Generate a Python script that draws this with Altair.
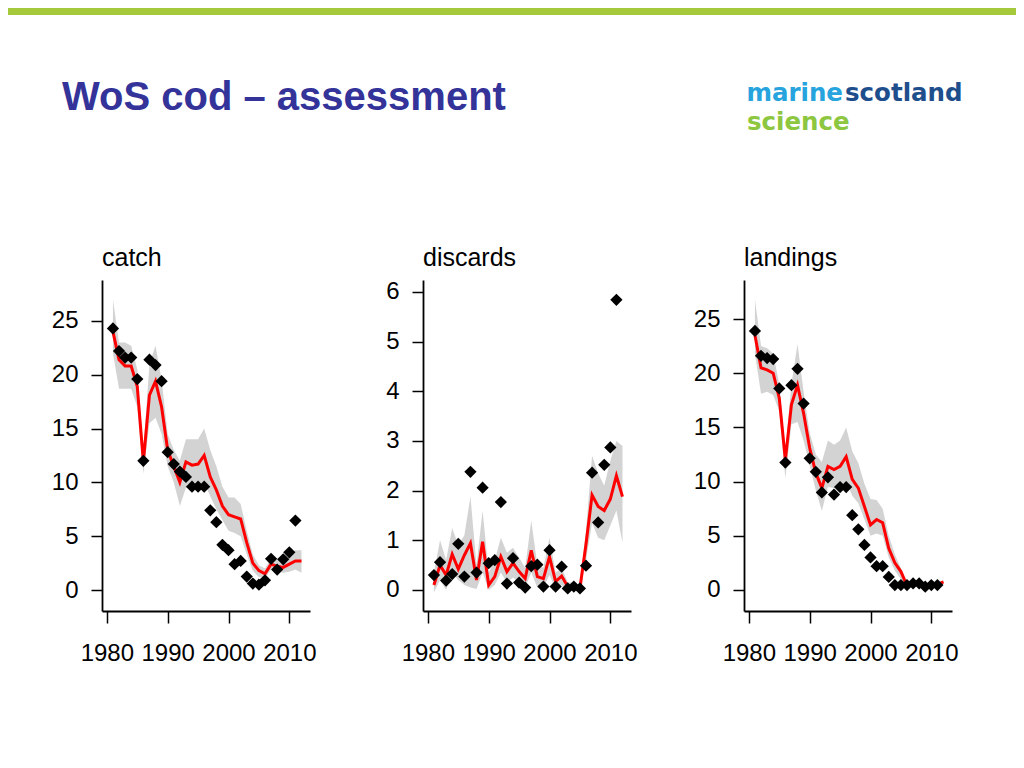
import altair as alt
import pandas as pd

# ---------------- data ----------------
model_years = list(range(1981, 2013))
obs_years = list(range(1981, 2012))

catch_obs = [24.3, 22.2, 21.6, 21.6, 19.6, 12.0, 21.4, 20.9, 19.4, 12.8, 11.7, 11.0, 10.5,
             9.6, 9.6, 9.6, 7.4, 6.3, 4.2, 3.7, 2.4, 2.7, 1.25, 0.6, 0.5, 0.9, 2.9, 1.9,
             2.85, 3.5, 6.45]
catch_est = [24.0, 21.4, 20.8, 20.8, 18.9, 11.9, 18.1, 19.4, 17.0, 13.0, 11.5, 10.0, 11.9,
             11.6, 11.7, 12.5, 10.5, 9.3, 7.8, 7.0, 6.8, 6.6, 4.4, 2.5, 1.8, 1.5, 2.4, 2.2,
             2.1, 2.4, 2.7, 2.7]
catch_hi = [27.0, 23.0, 23.0, 22.7, 20.5, 13.0, 21.0, 22.7, 19.5, 14.5, 13.0, 12.0, 14.0,
            14.0, 14.0, 15.0, 13.0, 11.5, 9.6, 8.6, 8.6, 8.0, 5.5, 3.3, 2.3, 2.0, 3.0, 2.9,
            3.2, 3.4, 3.7, 3.7]
catch_lo = [22.0, 18.7, 18.7, 18.7, 17.0, 10.8, 15.5, 16.0, 14.5, 11.5, 10.0, 7.8, 9.5,
            9.8, 9.8, 10.0, 8.7, 7.5, 6.5, 5.5, 5.3, 5.0, 3.3, 1.8, 1.2, 1.1, 1.9, 1.7,
            1.6, 1.7, 1.9, 1.6]

disc_obs = [0.30, 0.56, 0.19, 0.32, 0.93, 0.27, 2.38, 0.35, 2.06, 0.54, 0.60, 1.77, 0.13,
            0.64, 0.15, 0.05, 0.48, 0.51, 0.07, 0.80, 0.07, 0.47, 0.03, 0.07, 0.03, 0.49,
            2.36, 1.36, 2.52, 2.87, 5.84]
disc_est = [0.10, 0.50, 0.30, 0.72, 0.42, 0.70, 0.94, 0.20, 0.97, 0.10, 0.27, 0.67, 0.37,
            0.54, 0.37, 0.23, 0.80, 0.27, 0.23, 0.67, 0.17, 0.28, 0.07, 0.07, 0.03, 0.92,
            1.91, 1.68, 1.60, 1.83, 2.30, 1.88]
disc_hi = [0.35, 1.0, 0.6, 1.25, 0.9, 1.1, 1.88, 0.5, 1.6, 0.35, 0.6, 1.05, 0.75, 0.85,
           0.65, 0.45, 1.4, 0.5, 0.45, 1.05, 0.35, 0.45, 0.15, 0.15, 0.1, 1.2, 2.7, 2.35,
           2.1, 2.6, 3.0, 2.9]
disc_lo = [-0.05, 0.2, 0.0, 0.35, 0.2, 0.1, 0.05, 0.02, 0.35, 0.0, 0.1, 0.35, 0.15, 0.25,
           0.15, 0.05, 0.35, 0.05, 0.05, 0.3, 0.02, 0.1, 0.0, 0.0, 0.0, 0.6, 1.35, 1.05,
           1.0, 1.3, 1.6, 0.95]

land_obs = [23.9, 21.6, 21.4, 21.3, 18.6, 11.75, 18.9, 20.4, 17.2, 12.15, 10.9, 9.0, 10.4,
            8.8, 9.5, 9.5, 6.9, 5.6, 4.15, 3.0, 2.2, 2.2, 1.2, 0.45, 0.45, 0.45, 0.6, 0.6,
            0.3, 0.45, 0.45]
land_est = [23.5, 20.5, 20.3, 20.0, 17.7, 12.0, 17.1, 18.9, 16.3, 13.1, 10.8, 9.4, 11.4,
            11.1, 11.4, 12.3, 10.2, 9.4, 7.7, 6.0, 6.5, 6.2, 3.85, 2.5, 1.7, 0.4, 0.5, 0.5,
            0.5, 0.5, 0.5, 0.75]
land_hi = [26.8, 22.5, 22.3, 21.8, 19.0, 12.8, 19.0, 22.7, 18.3, 14.5, 12.5, 11.8, 13.8,
           13.4, 13.8, 15.0, 12.8, 11.7, 9.8, 8.4, 8.3, 7.5, 5.0, 3.3, 2.0, 0.6, 0.7, 0.7,
           0.7, 0.7, 0.7, 0.9]
land_lo = [21.8, 18.1, 18.3, 18.0, 16.5, 10.3, 15.3, 15.5, 13.8, 11.5, 9.2, 7.3, 9.5,
           9.4, 9.5, 10.0, 8.7, 8.0, 6.5, 5.0, 5.2, 5.0, 3.0, 1.8, 1.0, 0.3, 0.35, 0.35,
           0.35, 0.35, 0.35, 0.6]

x_ticks = [1980, 1990, 2000, 2010]
big_ticks = [0, 5, 10, 15, 20, 25]
disc_ticks = [0, 1, 2, 3, 4, 5, 6]

page_title = "WoS cod \u2013 assessment"

# ---------------- style ----------------
FONT = "Liberation Sans"
LOGO_FONT = "DejaVu Sans"
X_DOMAIN = [1979.2, 2013.4]
W, H = 208, 331
ONE = alt.Data(values=[{}])


def panel(name, obs, est, lo, hi, ydomain, yticks, header=False):
    mdf = pd.DataFrame({"year": model_years, "est": est, "lo": lo, "hi": hi})
    odf = pd.DataFrame({"year": obs_years, "obs": obs})
    xs = alt.Scale(domain=X_DOMAIN, nice=False, zero=False)
    ys = alt.Scale(domain=ydomain, nice=False, zero=False)
    xax = alt.Axis(values=x_ticks, format="d", title=None, tickSize=12, labelPadding=18)
    yax = alt.Axis(values=yticks, format="d", title=None, tickSize=11, labelPadding=13)

    band = alt.Chart(mdf).mark_area(color="#d3d3d3").encode(
        x=alt.X("year:Q", scale=xs, axis=xax),
        y=alt.Y("lo:Q", scale=ys, axis=yax),
        y2="hi:Q",
    )
    line = alt.Chart(mdf).mark_line(color="#ff0000", strokeWidth=3).encode(
        x=alt.X("year:Q", scale=xs, axis=xax),
        y=alt.Y("est:Q", scale=ys, axis=yax),
    )
    pts = alt.Chart(odf).mark_point(shape="diamond", filled=True, color="black",
                                    size=150, opacity=1).encode(
        x=alt.X("year:Q", scale=xs, axis=xax),
        y=alt.Y("obs:Q", scale=ys, axis=yax),
    )
    label = alt.Chart(ONE).mark_text(font=FONT, fontSize=25, color="black", align="left",
                                     baseline="alphabetic", text=name).encode(
        x=alt.value(0), y=alt.value(-14))
    layers = [band, line, pts, label]

    if header:
        green = alt.Chart(ONE).mark_rect(color="#a6c93c").encode(
            x=alt.value(-94), x2=alt.value(914), y=alt.value(-272), y2=alt.value(-265))
        title = alt.Chart(ONE).mark_text(font=FONT, fontSize=40, fontWeight="bold",
                                         color="#333399", align="left",
                                         baseline="alphabetic", text=page_title).encode(
            x=alt.value(-40), y=alt.value(-170))
        marine = alt.Chart(ONE).mark_text(font=LOGO_FONT, fontSize=24.5, fontWeight="bold",
                                          color="#27a4dd", align="right",
                                          baseline="alphabetic", text="marine").encode(
            x=alt.value(741), y=alt.value(-179))
        scot = alt.Chart(ONE).mark_text(font=LOGO_FONT, fontSize=24.5, fontWeight="bold",
                                        color="#1e4e8c", align="left",
                                        baseline="alphabetic", text="scotland").encode(
            x=alt.value(743), y=alt.value(-179))
        sci = alt.Chart(ONE).mark_text(font=LOGO_FONT, fontSize=24.5, fontWeight="bold",
                                       color="#8dc63f", align="left",
                                       baseline="alphabetic", text="science").encode(
            x=alt.value(645), y=alt.value(-150))
        layers += [green, title, marine, scot, sci]

    return alt.layer(*layers).properties(width=W, height=H)


p1 = panel("catch", catch_obs, catch_est, catch_lo, catch_hi, [-1.95, 28.8], big_ticks, header=True)
p2 = panel("discards", disc_obs, disc_est, disc_lo, disc_hi, [-0.423, 6.24], disc_ticks)
p3 = panel("landings", land_obs, land_est, land_lo, land_hi, [-1.94, 28.6], big_ticks)

chart = alt.hconcat(p1, p2, p3, spacing=113, bounds="flush").properties(
    padding=0, background="white"
).configure_view(stroke=None).configure_axis(
    grid=False,
    domainColor="black",
    domainWidth=1.8,
    tickColor="black",
    tickWidth=1.5,
    labelFont=FONT,
    labelFontSize=24,
    labelColor="black",
)

chart.save("out.html", embed_options={"renderer": "svg", "actions": False})
